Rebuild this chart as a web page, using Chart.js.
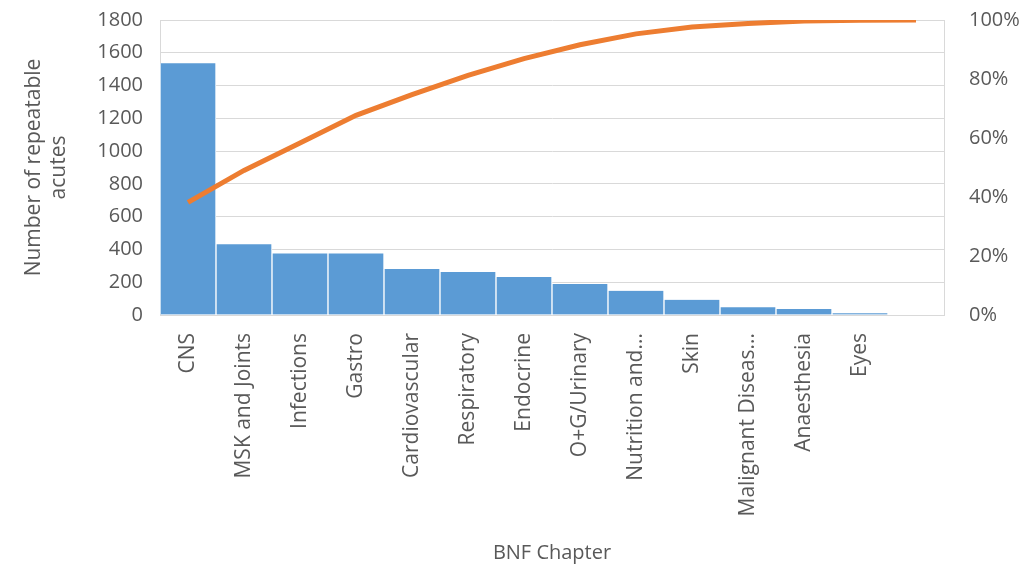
<!DOCTYPE html>
<html>
<head>
<meta charset="utf-8">
<script src="https://cdn.jsdelivr.net/npm/chart.js@4"></script>
<style>
    html, body { margin: 0; padding: 0; background: #fff; }
    #wrap { width: 1035px; height: 567px; }
</style>
</head>
<body>
<div id="wrap"><canvas id="paretoChart" width="1035" height="567"></canvas></div>
<script>
// BNF chapters, sorted by count
const chapters = ['CNS', 'MSK and Joints', 'Infections', 'Gastro', 'Cardiovascular', 'Respiratory',
    'Endocrine', 'O+G/Urinary', 'Nutrition and...', 'Skin', 'Malignant Diseas...', 'Anaesthesia', 'Eyes', ''];
const repeatableAcutes = [1536, 431, 376, 376, 281, 262, 232, 189, 148, 93, 47, 37, 10, 0];
const cumulativePct = [38.2, 49.0, 58.3, 67.7, 74.7, 81.2, 86.9, 91.6, 95.3, 97.6, 98.8, 99.7, 99.95, 100];

const leftTicks = [0, 200, 400, 600, 800, 1000, 1200, 1400, 1600, 1800];
const rightTicks = [0, 20, 40, 60, 80, 100];

const GREY = '#595959';
const GRID = '#d9d9d9';
const FONT = "'Open Sans', 'DejaVu Sans', sans-serif";

// vertical axes: fixed width, no extra top/bottom room for the tick labels
function fixVertical(width) {
    return s => {
        s.width = width;
        s.paddingTop = 0;
        s.paddingBottom = 0;
    };
}

const ctx = document.getElementById('paretoChart').getContext('2d');
new Chart(ctx, {
    data: {
        labels: chapters,
        datasets: [
            {
                type: 'line',
                label: 'Cumulative %',
                data: cumulativePct,
                yAxisID: 'y1',
                borderColor: '#ED7D31',
                borderWidth: 5,
                pointRadius: 0,
                tension: 0,
                order: 0
            },
            {
                type: 'bar',
                label: 'Number of repeatable acutes',
                data: repeatableAcutes,
                yAxisID: 'y',
                backgroundColor: '#5B9BD5',
                borderColor: '#ffffff',
                borderWidth: { left: 1, right: 1, top: 0, bottom: 0 },
                borderSkipped: false,
                barPercentage: 1,
                categoryPercentage: 1,
                order: 1
            }
        ]
    },
    options: {
        responsive: false,
        animation: false,
        layout: { padding: { left: 21, right: 0, top: 20, bottom: 2 } },
        plugins: {
            legend: { display: false },
            tooltip: { enabled: false }
        },
        scales: {
            x: {
                grid: { display: false },
                border: { display: true, color: GRID },
                ticks: {
                    color: GREY,
                    font: { family: FONT, size: 21 },
                    autoSkip: false,
                    minRotation: 90,
                    maxRotation: 90,
                    padding: 10
                },
                title: {
                    display: true,
                    text: 'BNF Chapter',
                    color: GREY,
                    font: { family: FONT, size: 20 },
                    padding: { top: 0, bottom: 0 }
                },
                afterFit: s => { s.height = 250; }
            },
            y: {
                position: 'left',
                min: 0,
                max: 1800,
                afterBuildTicks: s => { s.ticks = leftTicks.map(v => ({ value: v })); },
                grid: { color: GRID, drawTicks: false },
                border: { display: true, color: GRID },
                ticks: {
                    color: GREY,
                    font: { family: FONT, size: 20 },
                    padding: 17,
                    callback: v => String(v)
                },
                title: {
                    display: true,
                    text: ['Number of repeatable', 'acutes'],
                    color: GREY,
                    font: { family: FONT, size: 21 },
                    lineHeight: 1.3,
                    padding: { top: 0, bottom: 0 }
                },
                afterFit: fixVertical(139)
            },
            y1: {
                position: 'right',
                min: 0,
                max: 100,
                afterBuildTicks: s => { s.ticks = rightTicks.map(v => ({ value: v })); },
                grid: { display: false },
                border: { display: true, color: GRID },
                ticks: {
                    color: GREY,
                    font: { family: FONT, size: 20 },
                    padding: 17,
                    callback: v => v + '%'
                },
                afterFit: fixVertical(91)
            }
        }
    }
});
</script>
</body>
</html>
